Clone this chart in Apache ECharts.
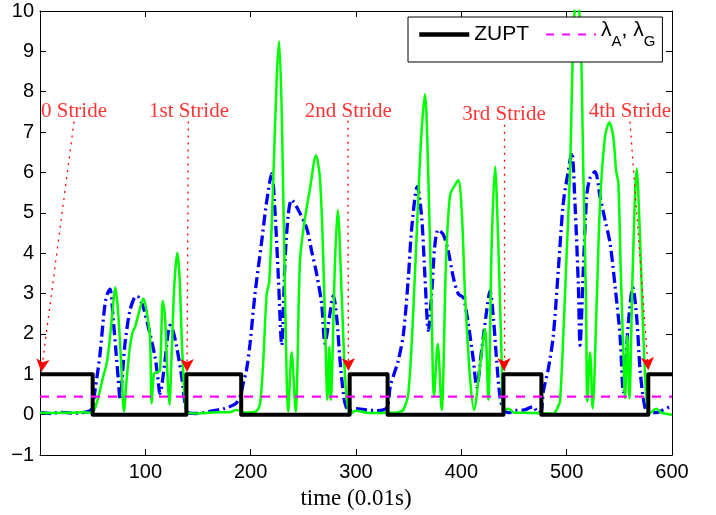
<!DOCTYPE html>
<html>
<head>
<meta charset="utf-8">
<script src="https://cdn.jsdelivr.net/npm/echarts@6/dist/echarts.min.js"></script>
<style>html,body{margin:0;padding:0;background:#fff}#c{width:716px;height:515px}</style>
</head>
<body>
<div id="c"></div>
<script>
// ---- data ----
var xTicks = [0, 100, 200, 300, 400, 500, 600];
var yTicks = [-1, 0, 1, 2, 3, 4, 5, 6, 7, 8, 9, 10];

// ZUPT step: start of each segment and its value
var zuptX = [0, 50, 139, 191, 294, 330, 440, 476, 577.5, 600];
var zuptV = [1, 0, 1, 0, 1, 0, 1, 0, 1, 1];

var lambdaLevel = 0.45;

// green (solid) curve
var greenX = [0,10,20,30,40,48,52,56,60,63.3,66,69,71.5,74,77,79.7,82,85.4,88,90.2,94.9,98.1,101,104.4,106,108.2,111,113.9,116.5,118.5,121,122.8,125,127.5,130.4,132.5,135,138.6,142,150,160,170,180,186,190,195,200,205,208.9,212,215.2,217.7,221.5,224.7,226.9,229.5,232.6,235.7,238.9,242.7,246.8,250.6,256.3,262,265.8,269,271.5,272.8,274.7,276,280.1,282.6,286.4,289.6,292.7,296,300,310,320,330,338,342,345,349.7,354.4,359.2,362.4,365.5,368.7,371.8,374,377.6,381.3,385.5,389.3,394,397.2,400.4,403.5,408.2,412,417.7,422.5,425.6,428.8,432,435.1,438.3,440,445,450,460,470,480,488,491.8,493.7,496.8,499.9,503.2,506.3,509.5,513.3,515.8,518.4,519.6,522.2,524.7,528.5,531.7,536.4,540.5,544.3,546.9,549.1,551.3,553.8,555.4,557.6,559.5,562.7,566.5,569.6,572.8,576,579,585,590,600];
var greenY = [0.05,0.04,0.05,0.05,0.06,0.05,0.15,0.5,0.95,1.27,1.8,2.6,3.15,2.6,1.3,0.08,0.8,1.68,2.05,2.17,2.62,2.88,2.6,1.92,0.28,1.02,1.05,1.1,2.82,2.5,1.0,0.25,1.5,3.2,4.01,3.4,1.6,0.08,0.04,0.03,0.05,0.06,0.06,0.12,0.1,0.05,0.06,0.08,0.28,1.35,2.99,3.31,5.85,8.31,9.25,7.49,2.99,0.08,1.55,0.08,3.81,4.7,5.6,6.42,5.85,3.81,1.35,0.37,1.68,0.37,3.81,5.07,2.99,0.94,0.12,0.05,0.1,0.05,0.04,0.05,0.05,0.08,0.12,0.53,2.58,5.44,7.08,7.94,5.85,2.58,0.45,1.76,0.12,3.81,5.44,5.69,5.81,5.03,2.99,0.94,0.12,1.19,2.13,0.37,4.21,6.14,4.21,1.35,0.12,0.15,0.05,0.05,0.04,0.03,0.04,0.2,0.33,1.96,3.93,6.05,9.33,10.6,9.33,6.05,2.78,0.33,1.55,0.16,2.78,5.24,6.88,7.24,6.88,6.05,5.73,3.6,1.55,0.41,1.96,0.41,3.6,6.1,4.42,1.96,0.33,0.04,0.15,0.05,0.0];

// blue (dash-dot) curve
var blueX = [0,10,20,30,40,47.5,50,52.2,55,57,61.7,64,66.5,69.6,72,74.4,76,78,80.7,85.4,90.2,92.4,95,98.1,104.4,109.2,111.5,113.9,118.7,121,123.4,126,129.8,134.5,138.6,142,148,155,165,175,180,186,190,193,196,199.4,204.1,210.5,215.2,220,223.1,226.3,229.5,232.6,235.7,238.9,245.2,253.2,257.9,262.7,267.4,270.6,274.7,278.5,281.7,284.8,288,290.5,295,300,310,320,326,330,332.5,336,340.2,345,349.7,352.9,358.2,362.4,365.5,368.7,371.8,374.9,378.1,382.9,387.6,392.4,397.2,401.9,406.6,411.4,414.6,419.3,424.1,427.2,430.4,433.5,436.7,440,445,450,460,468,473,476,477.8,482.6,487.3,492.1,496.8,501.6,504.8,507.9,511.1,512.7,515.8,519,522,526.9,531.7,536.4,541.2,545.9,550.7,553.8,558.6,562.8,566.6,569.6,572.8,575.8,580,585,590,598,600];
var blueY = [0.05,0.03,0.06,0.04,0.05,0.1,0.2,0.6,1.1,1.51,2.74,3.0,3.11,2.33,1.6,0.86,0.37,0.9,1.76,2.58,2.92,2.93,2.85,2.66,2.0,1.43,1.0,0.53,1.35,1.9,2.21,2.1,1.68,0.94,0.13,0.04,0.03,0.05,0.1,0.15,0.2,0.28,0.45,0.78,1.1,1.76,2.99,4.3,5.28,5.97,5.03,3.4,1.72,3.81,4.95,5.32,5.07,4.62,4.05,3.48,2.74,1.76,2.41,2.95,2.41,1.35,0.53,0.2,0.1,0.15,0.12,0.1,0.12,0.2,0.7,1.0,1.35,2.0,3.4,4.62,5.65,4.87,3.4,2.09,2.99,4.21,4.58,4.46,4.05,3.4,2.99,2.9,2.25,1.35,0.69,1.6,2.58,3.07,2.41,1.35,0.45,0.12,0.05,0.1,0.12,0.2,0.05,0.1,0.57,1.14,1.96,3.6,5.24,6.05,6.5,5.24,3.19,1.72,3.6,5.4,5.85,6.02,5.4,4.83,4.25,3.19,1.96,0.57,2.29,3.15,2.37,1.14,0.41,0.08,0.05,0.05,0.1,0.2,0.22];

// stride annotations
var strideLabels = ['0 Stride', '1st Stride', '2nd Stride', '3rd Stride', '4th Stride'];
var labelX = [32.3, 141.5, 292.7, 440.5, 560];
var labelY = [7.52, 7.52, 7.52, 7.44, 7.52];
var arrowFromX = [32.3, 140.8, 292.3, 440.5, 560.1];
var arrowFromY = [7.26, 7.26, 7.28, 7.18, 7.26];
var arrowToX = [1.2, 139.6, 292.8, 440.5, 577.5];
var arrowToY = [1.06, 1.06, 1.08, 1.08, 1.1];

// ---- build ----
function zip(a, b) { return a.map(function (v, i) { return [v, b[i]]; }); }

var zuptData = zip(zuptX, zuptV);
var arrowData = strideLabels.map(function (s, i) {
  return [{ coord: [arrowFromX[i], arrowFromY[i]] }, { coord: [arrowToX[i], arrowToY[i]] }];
});
var labelData = strideLabels.map(function (s, i) { return [labelX[i], labelY[i], s]; });

var axisCommon = {
  axisLine: { show: true, onZero: false, lineStyle: { color: '#000', width: 1 } },
  axisTick: { show: true, inside: true, length: 6, lineStyle: { color: '#000', width: 1 } },
  splitLine: { show: false }
};
function merge(a, b) { var o = {}; for (var k in a) o[k] = a[k]; for (var k2 in b) o[k2] = b[k2]; return o; }

var chart = echarts.init(document.getElementById('c'), null, { renderer: 'canvas' });
chart.setOption({
  animation: false,
  backgroundColor: '#fff',
  grid: { left: 40, right: 44, top: 11, bottom: 56, containLabel: false },
  legend: {
    data: [
      { name: 'ZUPT', lineStyle: { width: 4.5, color: '#000', type: 'solid' }, itemStyle: { opacity: 0 } },
      { name: 'lambda', lineStyle: { width: 2, color: '#ff00ff', type: [8, 8] }, itemStyle: { opacity: 0 } }
    ],
    left: 408, top: 17,
    padding: [3, 7, 13, 9],
    itemWidth: 50, itemHeight: 14, itemGap: 16,
    borderColor: '#000', borderWidth: 1, borderRadius: 0,
    backgroundColor: '#fff',
    selectedMode: false,
    itemStyle: { opacity: 0 },
    textStyle: {
      fontFamily: 'Liberation Sans', fontSize: 21, color: '#000',
      rich: {
        m: { fontFamily: 'Liberation Sans', fontSize: 21, color: '#000', verticalAlign: 'top', lineHeight: 29 },
        s: { fontFamily: 'Liberation Sans', fontSize: 15, color: '#000', verticalAlign: 'bottom', lineHeight: 29 }
      }
    },
    formatter: function (name) {
      return name === 'ZUPT' ? 'ZUPT' : '{m|λ}{s|A}{m|, λ}{s|G}';
    }
  },
  xAxis: [
    merge(axisCommon, {
      type: 'value', min: xTicks[0], max: xTicks[xTicks.length - 1], interval: 100, position: 'bottom',
      axisLabel: { fontFamily: 'Liberation Sans', fontSize: 20, color: '#000', margin: 7,
        formatter: function (v) { return v === 0 ? '' : String(v); } },
      name: 'time (0.01s)', nameLocation: 'middle', nameGap: 29,
      nameTextStyle: { fontFamily: 'Liberation Serif', fontSize: 23, color: '#000' }
    }),
    merge(axisCommon, {
      type: 'value', min: xTicks[0], max: xTicks[xTicks.length - 1], interval: 100, position: 'top',
      axisLabel: { show: false }
    })
  ],
  yAxis: [
    merge(axisCommon, {
      type: 'value', min: yTicks[0], max: yTicks[yTicks.length - 1], interval: 1, position: 'left',
      axisLabel: { fontFamily: 'Liberation Sans', fontSize: 20, color: '#000', margin: 6,
        formatter: function (v) { return v < 0 ? '\u2212' + (-v) : String(v); } }
    }),
    merge(axisCommon, {
      type: 'value', min: yTicks[0], max: yTicks[yTicks.length - 1], interval: 1, position: 'right',
      axisLabel: { show: false }
    })
  ],
  series: [
    {
      name: 'accel', type: 'line', data: zip(blueX, blueY), symbol: 'none', smooth: 0.3,
      lineStyle: { color: '#0000ff', width: 3.3, type: [11, 4, 2, 4] }, z: 2, silent: true
    },
    {
      name: 'gyro', type: 'line', data: zip(greenX, greenY), symbol: 'none', smooth: 0.3,
      lineStyle: { color: '#00ff00', width: 2.5 }, z: 3, silent: true
    },
    {
      name: 'ZUPT', type: 'line', data: zuptData, step: 'end', symbol: 'none',
      itemStyle: { color: '#000' },
      lineStyle: { color: '#000', width: 4, join: 'round' }, z: 4, silent: true
    },
    {
      name: 'lambda', type: 'line', data: [[xTicks[0], lambdaLevel], [xTicks[xTicks.length - 1], lambdaLevel]],
      symbol: 'none', itemStyle: { color: '#ff00ff' },
      lineStyle: { color: '#ff00ff', width: 2.3, type: [9, 8] }, z: 5, silent: true
    },
    {
      name: 'arrows', type: 'line', data: [], symbol: 'none', silent: true, z: 6,
      markLine: {
        silent: true, animation: false,
        symbol: ['none', 'arrow'], symbolSize: [10, 13],
        label: { show: false },
        lineStyle: { color: '#ff0000', width: 1.3, type: [2, 5] },
        emphasis: { disabled: true },
        data: arrowData
      }
    },
    {
      name: 'strideText', type: 'scatter', data: labelData, symbolSize: 0, silent: true, z: 7,
      label: {
        show: true, position: 'inside', color: '#ff0000',
        fontFamily: 'Liberation Serif', fontSize: 21,
        formatter: function (p) { return p.value[2]; }
      }
    }
  ]
});
</script>
</body>
</html>
